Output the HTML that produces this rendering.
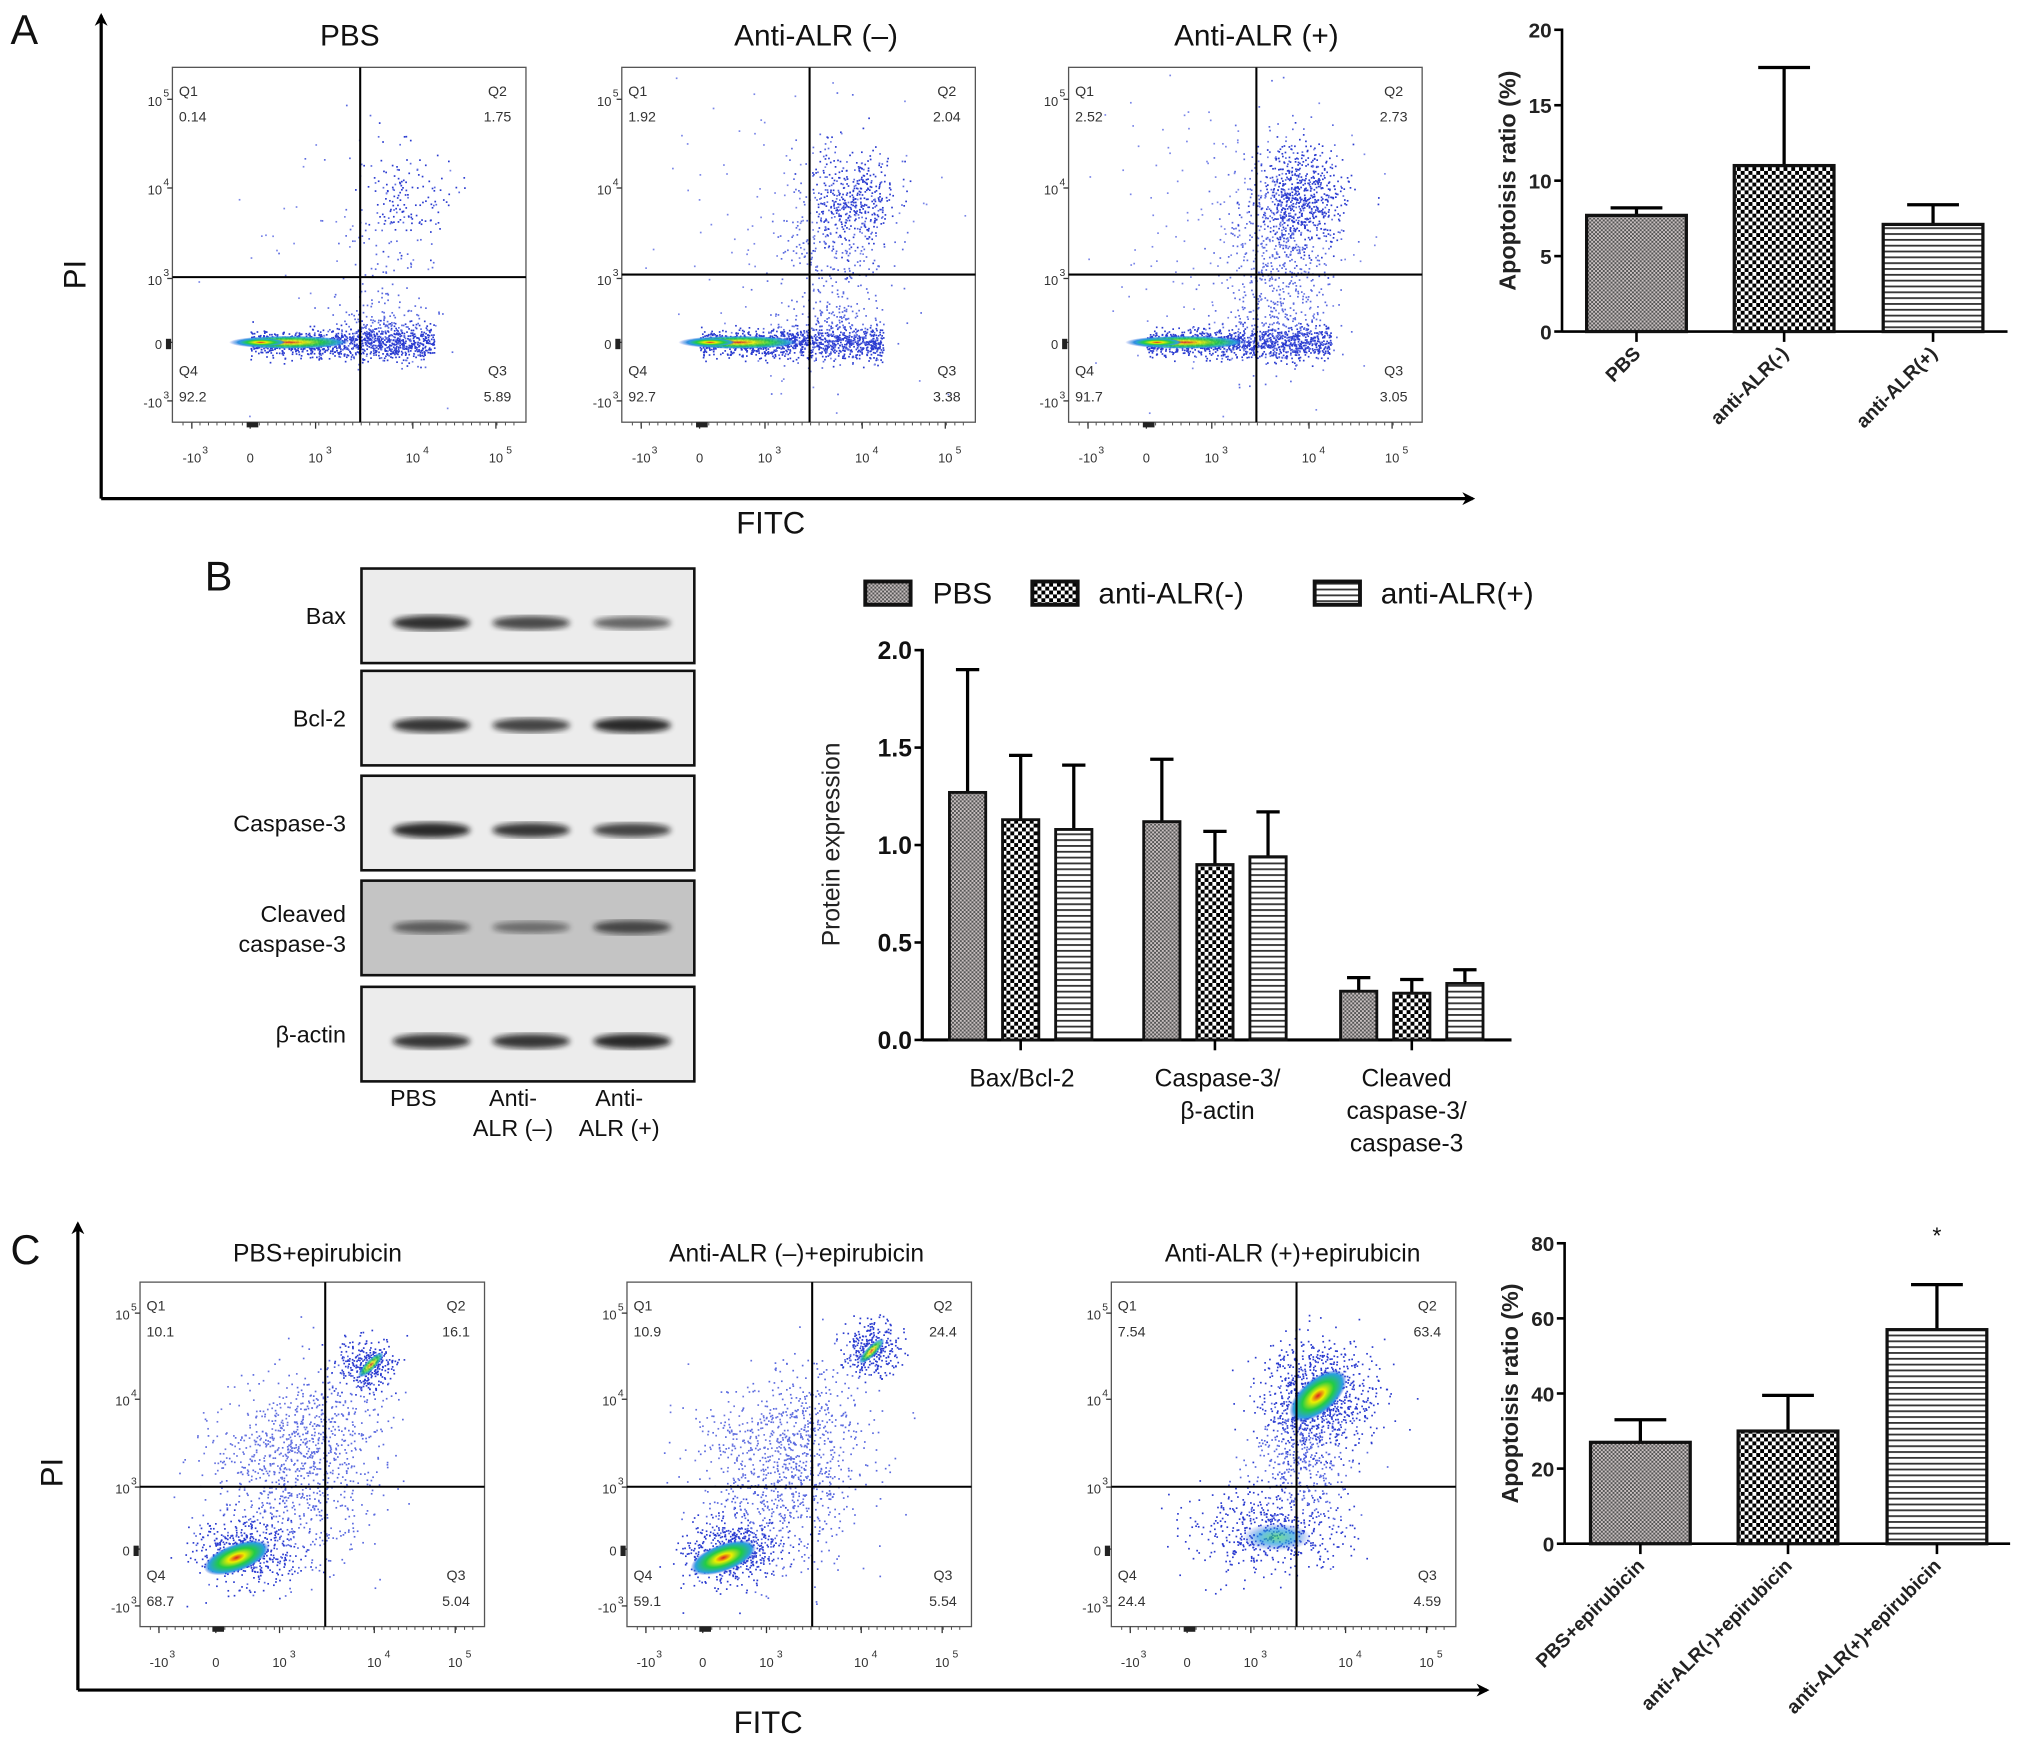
<!DOCTYPE html>
<html><head><meta charset="utf-8">
<style>
html,body{margin:0;padding:0;background:#fff;}
svg{display:block;font-family:"Liberation Sans",Arial,sans-serif;}
</style></head>
<body>
<svg id="fig" width="2031" height="1760" viewBox="0 0 1568 1359" xmlns="http://www.w3.org/2000/svg">
<defs>
<pattern id="pPBS" width="3" height="3" patternUnits="userSpaceOnUse"><rect width="3" height="3" fill="#c8c0c0"/><rect width="1.5" height="1.5" fill="#555"/><rect x="1.5" y="1.5" width="1.5" height="1.5" fill="#555"/></pattern>
<pattern id="pNeg" width="6" height="6" patternUnits="userSpaceOnUse"><rect width="6" height="6" fill="#fff"/><rect width="3" height="3" fill="#000"/><rect x="3" y="3" width="3" height="3" fill="#000"/></pattern>
<pattern id="pPos" width="4" height="4.5" patternUnits="userSpaceOnUse"><rect width="4" height="4.5" fill="#fff"/><rect y="0" width="4" height="1.4" fill="#333"/></pattern>
<filter id="blur"><feGaussianBlur stdDeviation="2.2"/></filter>
<radialGradient id="core"><stop offset="0" stop-color="#d22"/><stop offset="0.25" stop-color="#ee0"/><stop offset="0.55" stop-color="#2c4"/><stop offset="0.85" stop-color="#2aa0e0"/><stop offset="1" stop-color="#2244dd" stop-opacity="0"/></radialGradient>
<radialGradient id="core2"><stop offset="0" stop-color="#3c6"/><stop offset="0.5" stop-color="#2aa0e0"/><stop offset="1" stop-color="#2244dd" stop-opacity="0"/></radialGradient>
<marker id="arr" markerWidth="10" markerHeight="10" refX="8" refY="5" orient="auto" markerUnits="userSpaceOnUse"><path d="M0,0 L10,5 L0,10 L3,5 z" fill="#000"/></marker>
</defs>
<g id="root"></g>
</svg>
<script>
// ===== Data =====
const aCats = ["PBS","anti-ALR(-)","anti-ALR(+)"];
const aVals = [7.7, 11.0, 7.1];
const aErrTop = [8.2, 17.5, 8.4];
const aTicks = [0,5,10,15,20];

const bCats = ["Bax/Bcl-2","Caspase-3/β-actin","Cleaved caspase-3/caspase-3"];
const bSeries = ["PBS","anti-ALR(-)","anti-ALR(+)"];
const bPBS = [1.27, 1.12, 0.25];
const bNeg = [1.13, 0.90, 0.24];
const bPos = [1.08, 0.94, 0.29];
const bErrPBS = [1.90, 1.44, 0.32];
const bErrNeg = [1.46, 1.07, 0.31];
const bErrPos = [1.41, 1.17, 0.36];
const bTicks = ["0.0","0.5","1.0","1.5","2.0"];

const cCats = ["PBS+epirubicin","anti-ALR(-)+epirubicin","anti-ALR(+)+epirubicin"];
const cVals = [27, 30, 57];
const cErrTop = [33, 39.5, 69];
const cTicks = [0,20,40,60,80];

const flowA = [["0.14","1.75","92.2","5.89"],["1.92","2.04","92.7","3.38"],["2.52","2.73","91.7","3.05"]];
const flowC = [["10.1","16.1","68.7","5.04"],["10.9","24.4","59.1","5.54"],["7.54","63.4","24.4","4.59"]];

// ===== helpers =====
const NS="http://www.w3.org/2000/svg";
const root=document.getElementById('root');
function el(tag,attrs,parent,txt){const e=document.createElementNS(NS,tag);for(const k in attrs)e.setAttribute(k,attrs[k]);if(txt!==undefined)e.textContent=txt;(parent||root).appendChild(e);return e;}
function line(x1,y1,x2,y2,w,p,c){return el('line',{x1,y1,x2,y2,stroke:c||'#000','stroke-width':w||1},p);}
function txt(x,y,s,size,anchor,p,extra){const a={x,y,'font-size':size,'text-anchor':anchor||'start',fill:'#111'};if(extra)Object.assign(a,extra);return el('text',a,p,s);}
let seed=12345;function rnd(){seed=(seed*1103515245+12345)%2147483648;return seed/2147483648;}
function gauss(){let u=rnd()||1e-6,v=rnd();return Math.sqrt(-2*Math.log(u))*Math.cos(2*Math.PI*v);}

// ===== big panel letters and arrows =====
txt(8,34,"A",32,'start',root,{});
txt(158,456,"B",32,'start',root,{});
txt(8,976,"C",32,'start',root,{});
function axesArrows(x0,y0,yTop,xRight,piY,fitcX,fitcY,name){
  const g=el('g',{},root);
  
  
  el('path',{d:`M${x0},${y0} L${x0},${yTop}`,stroke:'#000','stroke-width':2.5,fill:'none','marker-end':'url(#arr)'},g);
  el('path',{d:`M${x0},${y0} L${xRight},${y0}`,stroke:'#000','stroke-width':2.5,fill:'none','marker-end':'url(#arr)'},g);
  txt(x0-12,piY,"PI",24,'middle',g,{transform:`rotate(-90 ${x0-12} ${piY})`});
  txt(fitcX,fitcY,"FITC",24,'middle',g);
}
axesArrows(78,385,12,1137,212,595,412,'panel-a-axes');
axesArrows(60,1305,945,1148,1137,593,1338,'panel-c-axes');

// ===== flow plots =====
function flowPlot(x,y,w,h,qx,qy,title,titleX,titleY,titleSize,vals,kind,name){
  const g=el('g',{},root);
  
  
  txt(titleX,titleY,title,titleSize,'middle',g);
  el('rect',{x,y,width:w,height:h,fill:'#fff',stroke:'#555','stroke-width':1},g);
  const dots=el('g',{},g);
  const P=(fx,fy,sx,sy,n,col)=>{for(let i=0;i<n;i++){let px=fx+gauss()*sx,py=fy+gauss()*sy;if(px<0.01||px>0.99||py<0.01||py>0.99)continue;el('rect',{x:(x+px*w).toFixed(1),y:(y+py*h).toFixed(1),width:1.3,height:1.3,fill:col},dots);}};
  const blue='#2a3bd0',lb='#5a6ae0';
  const k=name.endsWith('1')?0:(name.endsWith('2')?1:2);
  if(kind==='A'){
    for(let i=0;i<1100;i++){const fx=0.22+rnd()*0.52,fy=0.775+gauss()*0.014*(1+fx);el('rect',{x:(x+fx*w).toFixed(1),y:(y+fy*h).toFixed(1),width:1.3,height:1.3,fill:blue},dots);}
    P(0.58,0.74,0.08,0.05,180,lb);
    P(0.6,0.5,0.08,0.14,120+k*220,lb);
    P(0.66,0.36,0.06,0.07,120+k*220,blue);
    P(0.45,0.5,0.2,0.2,40+k*80,'#7a86e8');
    el('ellipse',{cx:x+0.33*w,cy:y+0.775*h,rx:0.17*w,ry:5,fill:'url(#core)',opacity:0.9},g);
    el('ellipse',{cx:x+0.25*w,cy:y+0.775*h,rx:0.07*w,ry:3,fill:'url(#core)'},g);
  } else {
    if(k<2){
      P(0.3,0.78,0.07,0.05,500,blue);
      P(0.45,0.6,0.12,0.12,600,lb);
      P(0.4,0.45,0.1,0.08,250,'#6a76e0');
      P(0.66+k*0.05,0.24-k*0.05,0.04,0.04,300,blue);
      P(0.55,0.4,0.08,0.1,250,lb);
      el('ellipse',{cx:x+0.28*w,cy:y+0.8*h,rx:0.1*w,ry:0.04*h,fill:'url(#core)',transform:`rotate(-20 ${x+0.28*w} ${y+0.8*h})`},g);
      el('ellipse',{cx:x+(0.67+k*0.04)*w,cy:y+(0.24-k*0.04)*h,rx:0.05*w,ry:0.015*h,fill:'url(#core)',opacity:0.8,transform:`rotate(-45 ${x+(0.67+k*0.04)*w} ${y+(0.24-k*0.04)*h})`},g);
    } else {
      P(0.45,0.72,0.12,0.06,500,blue);
      P(0.55,0.5,0.07,0.1,400,lb);
      P(0.6,0.33,0.08,0.08,900,blue);
      el('ellipse',{cx:x+0.6*w,cy:y+0.33*h,rx:0.1*w,ry:0.05*h,fill:'url(#core)',transform:`rotate(-40 ${x+0.6*w} ${y+0.33*h})`},g);
      el('ellipse',{cx:x+0.48*w,cy:y+0.74*h,rx:0.1*w,ry:0.04*h,fill:'url(#core2)',opacity:0.7},g);
    }
  }
  line(x+qx,y,x+qx,y+h,1.6,g);
  line(x,y+qy,x+w,y+qy,1.6,g);
  const fs=11;
  txt(x+5,y+22,"Q1",fs,'start',g,{fill:'#333'});txt(x+5,y+42,vals[0],fs,'start',g,{fill:'#333'});
  txt(x+w-22,y+22,"Q2",fs,'middle',g,{fill:'#333'});txt(x+w-22,y+42,vals[1],fs,'middle',g,{fill:'#333'});
  txt(x+5,y+h-36,"Q4",fs,'start',g,{fill:'#333'});txt(x+5,y+h-16,vals[2],fs,'start',g,{fill:'#333'});
  txt(x+w-22,y+h-36,"Q3",fs,'middle',g,{fill:'#333'});txt(x+w-22,y+h-16,vals[3],fs,'middle',g,{fill:'#333'});
  const ys=[0.09,0.34,0.595,0.775,0.94], yl=["5","4","3","",""];
  const yb=["10","10","10","0","-10"];
  ys.forEach((f,i)=>{const yy=y+f*h;txt(x-8,yy+5,yb[i],10,'end',g,{fill:'#333'});if(i!==3)txt(x-7,yy-2,i===4?"3":yl[i],8,'start',g,{fill:'#333'});line(x-4,yy,x,yy,1,g,'#333');});
  const xs=[0.055,0.22,0.405,0.68,0.915], xb=["-10","0","10","10","10"], xs2=["3","","3","4","5"];
  xs.forEach((f,i)=>{const xx=x+f*w;txt(xx,y+h+31,xb[i],10,'middle',g,{fill:'#333'});if(xs2[i])txt(xx+8,y+h+24,xs2[i],8,'start',g,{fill:'#333'});line(xx,y+h,xx,y+h+5,1,g,'#333');});
  for(let i=0;i<40;i++){const xx=x+w*(0.03+i*0.024);line(xx,y+h,xx,y+h+2.5,0.8,g,'#555');}
  el('rect',{x:x+0.21*w,y:y+h,width:9,height:4,fill:'#222'},g);
  el('rect',{x:x-5,y:y+0.765*h,width:4,height:8,fill:'#222'},g);
}
flowPlot(133,52,273,274,145,162,"PBS",270,35,23,flowA[0],'A','flow-plot-a1');
flowPlot(480,52,273,274,145,160,"Anti-ALR (–)",630,35,23,flowA[1],'A','flow-plot-a2');
flowPlot(825,52,273,274,145,160,"Anti-ALR (+)",970,35,23,flowA[2],'A','flow-plot-a3');
flowPlot(108,990,266,266,143,158,"PBS+epirubicin",245,974,19,flowC[0],'C','flow-plot-c1');
flowPlot(484,990,266,266,143,158,"Anti-ALR (–)+epirubicin",615,974,19,flowC[1],'C','flow-plot-c2');
flowPlot(858,990,266,266,143,158,"Anti-ALR (+)+epirubicin",998,974,19,flowC[2],'C','flow-plot-c3');

// ===== simple bar charts (A and C) =====
const pats=['url(#pPBS)','url(#pNeg)','url(#pPos)'];
function barChart(axX,y0,yTop,xEnd,maxV,ticks,cats,vals,errs,barL,barW,ylab,labSize,name,star){
  const g=el('g',{},root);
  
  
  const sy=v=>y0-(v/maxV)*(y0-yTop);
  ticks.forEach(t=>{line(axX-6,sy(t),axX,sy(t),2,g);txt(axX-8,sy(t)+6,String(t),16,'end',g,{'font-weight':'bold',fill:'#222'});});
  line(axX,yTop-1,axX,y0,2,g);line(axX,y0,xEnd,y0,2,g);
  const ym=(y0+yTop)/2;
  txt(axX-36,ym,ylab,18,'middle',g,{'font-weight':'bold',transform:`rotate(-90 ${axX-36} ${ym})`,fill:'#222'});
  cats.forEach((c,i)=>{
    const x=barL[i],cx=x+barW/2;
    line(cx,sy(vals[i]),cx,sy(errs[i]),2.5,g);
    line(cx-20,sy(errs[i]),cx+20,sy(errs[i]),2.5,g);
    const r=el('rect',{x,y:sy(vals[i]),width:barW,height:y0-sy(vals[i]),fill:pats[i],stroke:'#111','stroke-width':2.5},g);
    
    
    line(cx,y0,cx,y0+8,2,g);
    txt(cx+4,y0+18,c,labSize,'end',g,{'font-weight':'bold',transform:`rotate(-45 ${cx+4} ${y0+18})`,fill:'#222'});
  });
  if(star)txt(barL[2]+barW/2,sy(maxV)+0,"*",18,'middle',g);
}
barChart(1206,256,23,1550,20,aTicks,aCats,aVals,aErrTop,[1225,1339,1454],77,"Apoptoisis ratio (%)",15,'apoptosis-bar-chart-a',false);
barChart(1208,1192,960,1552,80,cTicks,cCats,cVals,cErrTop,[1228,1342,1457],77,"Apoptoisis ratio (%)",15,'apoptosis-bar-chart-c',true);

// ===== Western blot =====
const blot=el('g',{},root);


const rows=[["Bax",439,[0.9,0.7,0.5]],["Bcl-2",518,[0.85,0.75,0.95]],["Caspase-3",599,[0.95,0.85,0.75]],["Cleaved|caspase-3",680,[0.45,0.3,0.65]],["β-actin",762,[0.85,0.85,0.95]]];
rows.forEach(([lab,y,ints],ri)=>{
  el('rect',{x:279,y,width:257,height:73,fill:ri===3?'#c4c4c4':'#ececec',stroke:'#111','stroke-width':2},blot);
  [333,410,488].forEach((cx,j)=>{el('ellipse',{cx,cy:y+(ri===3?36:42),rx:30,ry:4+2*ints[j],fill:'#111',opacity:0.3+0.6*ints[j],filter:'url(#blur)'},blot);});
  const parts=lab.split('|');
  if(parts.length===1)txt(267,y+43,lab,18,'end',blot);
  else{txt(267,y+32,parts[0],18,'end',blot);txt(267,y+55,parts[1],18,'end',blot);}
});
txt(319,854,"PBS",18,'middle',blot);
txt(396,854,"Anti-",18,'middle',blot);txt(396,877,"ALR (–)",18,'middle',blot);
txt(478,854,"Anti-",18,'middle',blot);txt(478,877,"ALR (+)",18,'middle',blot);

// ===== grouped bar chart B =====
const gb=el('g',{},root);


const bx=712,by0=803,byTop=502,bMax=2.0;
const bsy=v=>by0-(v/bMax)*(by0-byTop);
bTicks.forEach(t=>{const v=parseFloat(t);line(bx-6,bsy(v),bx,bsy(v),2,gb);txt(bx-8,bsy(v)+7,t,19,'end',gb,{'font-weight':'bold'});});
line(bx,byTop-1,bx,by0,2.5,gb);line(bx,by0,1167,by0,2.5,gb);
txt(648,652,"Protein expression",19,'middle',gb,{transform:'rotate(-90 648 652)',fill:'#222'});
const bVals=[bPBS,bNeg,bPos],bErrs=[bErrPBS,bErrNeg,bErrPos];
const groupStart=[733,883,1035],bw=28,step=41;
bCats.forEach((c,gi)=>{
  bVals.forEach((arr,si)=>{
    const x=groupStart[gi]+si*step,cx=x+bw/2;
    line(cx,bsy(arr[gi]),cx,bsy(bErrs[si][gi]),2.5,gb);
    line(cx-9,bsy(bErrs[si][gi]),cx+9,bsy(bErrs[si][gi]),2.5,gb);
    const r=el('rect',{x,y:bsy(arr[gi]),width:bw,height:by0-bsy(arr[gi]),fill:pats[si],stroke:'#111','stroke-width':2.2},gb);
    
    
  });
  const gc=groupStart[gi]+step+bw/2;
  line(gc,by0,gc,by0+8,2,gb);
});
txt(789,839,"Bax/Bcl-2",19,'middle',gb);
txt(940,839,"Caspase-3/",19,'middle',gb);txt(940,864,"β-actin",19,'middle',gb);
txt(1086,839,"Cleaved",19,'middle',gb);txt(1086,864,"caspase-3/",19,'middle',gb);txt(1086,889,"caspase-3",19,'middle',gb);
// legend
const lg=el('g',{},root);


[[668,"PBS",720],[797,"anti-ALR(-)",848],[1015,"anti-ALR(+)",1066]].forEach(([x,l,tx],i)=>{
  const r=el('rect',{x,y:449,width:35,height:18,fill:pats[i],stroke:'#111','stroke-width':3},lg);
  
  
  txt(tx,466,l,23,'start',lg);
});
</script>
</body></html>
